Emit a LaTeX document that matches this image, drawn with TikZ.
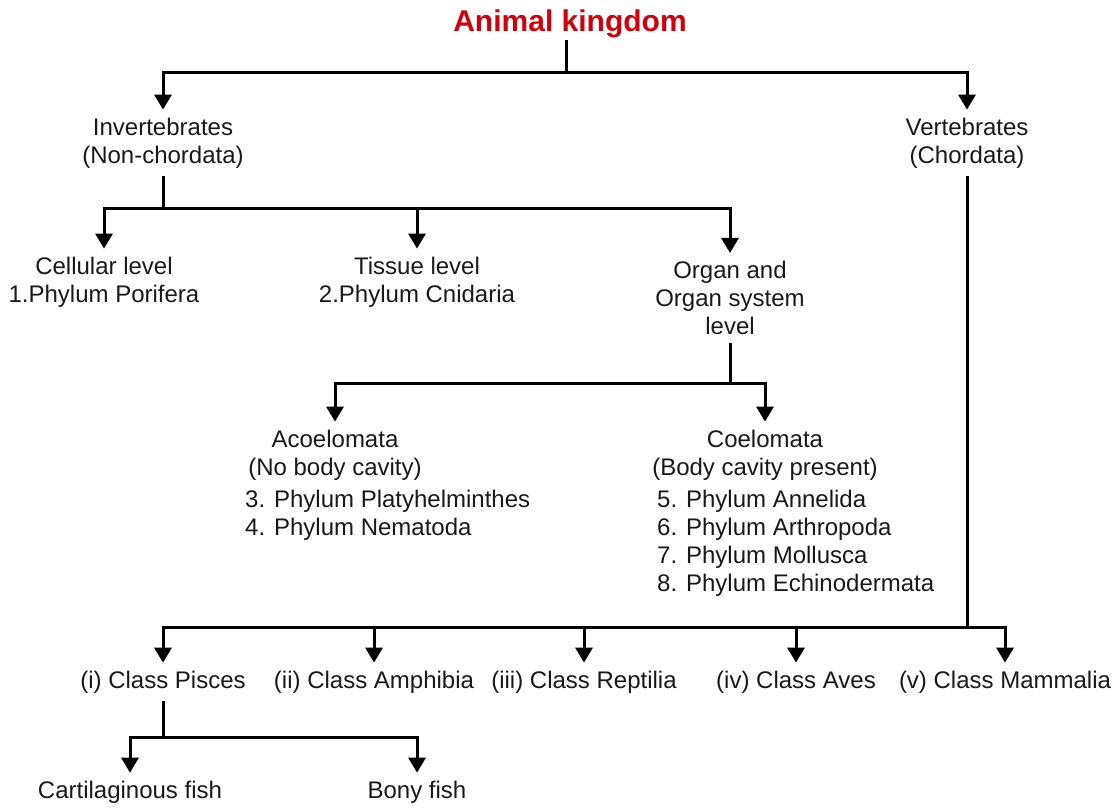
\documentclass[tikz,border=0pt]{standalone}
\usepackage{fontspec}
\setmainfont{Liberation Sans}
\usetikzlibrary{arrows.meta}
\definecolor{titlered}{RGB}{210,0,10}
\definecolor{txt}{RGB}{25,25,25}
\begin{document}
\begin{tikzpicture}[x=1pt,y=-1pt,
  lbl/.style={font=\fontsize{24}{28}\selectfont, text=txt, align=center, inner xsep=0pt, inner ysep=8pt},
  lst/.style={font=\fontsize{24}{28}\selectfont, text=txt, align=left, inner sep=0pt, anchor=north west},
  ttl/.style={font=\fontsize{30}{34}\selectfont\bfseries, text=titlered, inner sep=2pt},
  ln/.style={line width=3pt, black},
  arr/.style={ln, -{Triangle[length=15pt,width=17pt]}}]
\useasboundingbox (0,0) rectangle (1118,807);
% nodes
\node[ttl] (title) at (570,24) {Animal kingdom};
\node[lbl] (inv) at (163,143) {Invertebrates\\(Non-chordata)};
\node[lbl] (vert) at (967,143) {Vertebrates\\(Chordata)};
\node[lbl] (cell) at (104,282) {Cellular level\\1.Phylum Porifera};
\node[lbl] (tiss) at (417,282) {Tissue level\\2.Phylum Cnidaria};
\node[lbl] (organ) at (730,298) {Organ and\\Organ system\\level};
\node[lbl] (acoel) at (335,455) {Acoelomata\\(No body cavity)};
\node[lst] (acl) at (245,490) {3. Phylum Platyhelminthes\\4. Phylum Nematoda};
\node[lbl] (coel) at (765,455) {Coelomata\\(Body cavity present)};
\node[lst] (col) at (657,490) {5. Phylum Annelida\\6. Phylum Arthropoda\\7. Phylum Mollusca\\8. Phylum Echinodermata};
\node[lbl] (pisc) at (163,682) {(i) Class Pisces};
\node[lbl] (amph) at (374,682) {(ii) Class Amphibia};
\node[lbl] (rept) at (584,682) {(iii) Class Reptilia};
\node[lbl] (aves) at (796,682) {(iv) Class Aves};
\node[lbl] (mamm) at (1005,682) {(v) Class Mammalia};
\node[lbl] (cart) at (130,792) {Cartilaginous fish};
\node[lbl] (bony) at (417,792) {Bony fish};
% junctions
\coordinate (j0) at (566,72);
\coordinate (j1) at (163,208);
\coordinate (j2) at (730,383);
\coordinate (j3) at (967,627);
\coordinate (j4) at (163,737);
% connectors
\draw[ln] (title.south -| j0) -- (j0);
\draw[arr] (j0) -| (inv.north);
\draw[arr] (j0) -| (vert.north);
\draw[ln] (inv.south) -- (j1);
\draw[arr] (j1) -| (cell.north);
\draw[arr] (j1) -| (organ.north);
\draw[arr] (tiss.north |- j1) -- (tiss.north);
\draw[ln] (organ.south) -- (j2);
\draw[arr] (j2) -| (acoel.north);
\draw[arr] (j2) -| (coel.north);
\draw[ln] (vert.south) -- (j3);
\draw[arr] (j3) -| (pisc.north);
\draw[arr] (j3) -| (mamm.north);
\draw[arr] (amph.north |- j3) -- (amph.north);
\draw[arr] (rept.north |- j3) -- (rept.north);
\draw[arr] (aves.north |- j3) -- (aves.north);
\draw[ln] (pisc.south) -- (j4);
\draw[arr] (j4) -| (cart.north);
\draw[arr] (j4) -| (bony.north);
\end{tikzpicture}
\end{document}
